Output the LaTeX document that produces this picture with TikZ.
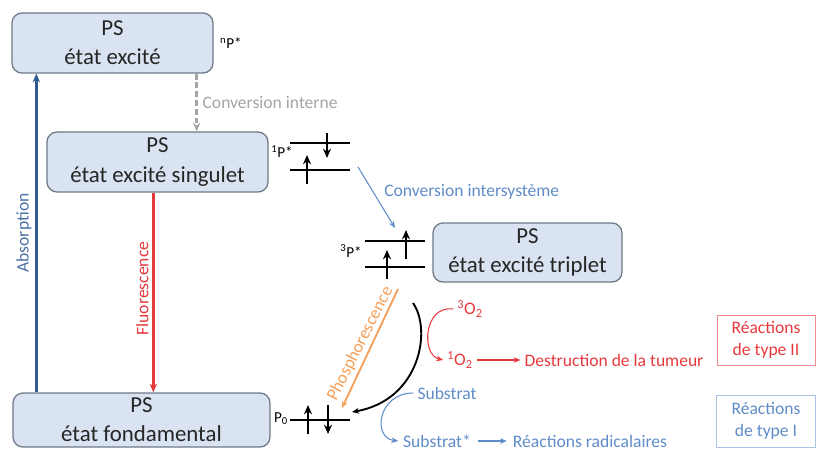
\documentclass[tikz,border=0pt]{standalone}
\usepackage{fontspec}
\setmainfont{Carlito}
\usepackage{tikz}
\usetikzlibrary{arrows.meta, positioning, calc}
\usepackage{xcolor}
\definecolor{fondboite}{HTML}{D9E3F1}
\definecolor{bordboite}{HTML}{6F7A88}
\definecolor{bleufonce}{HTML}{2F5B8F}
\definecolor{bleumoyen}{HTML}{4A70A6}
\definecolor{bleuclair}{HTML}{5F8CC8}
\definecolor{bleupale}{HTML}{A9C3E4}
\definecolor{rouge}{HTML}{E6393E}
\definecolor{rougeclair}{HTML}{F08A8C}
\definecolor{orangephos}{HTML}{F5A05A}
\definecolor{gris}{HTML}{A5A5A5}
\tikzset{
    etat/.style={draw=bordboite, fill=fondboite, line width=1.1pt, rounded corners=3mm, align=center, inner sep=0pt, text=black!85, font=\fontsize{19.5}{25}\selectfont},
    type/.style={draw, thick, align=center, inner sep=0pt, font=\fontsize{15}{19}\selectfont},
    texte/.style={font=\fontsize{15}{18}\selectfont},
    petit/.style={font=\fontsize{13}{15}\selectfont},
    fleche/.style={-{Stealth[length=2.1mm, width=1.7mm]}, line width=0.9pt},
    gros/.style={-{Stealth[length=2.6mm, width=2.2mm]}, line width=2.4pt},
    spin/.style={-{Stealth[length=2.8mm, width=2.4mm]}, line width=2.1pt},
    niveau/.style={line width=1.5pt},
}

\begin{document}
\begin{tikzpicture}[x=0.03cm, y=-0.03cm]
\useasboundingbox (0,0) rectangle (818,450);
% etats du PS
\node[etat, minimum width=6.03cm, minimum height=1.8cm] (excite) at (112.5,43) {PS\\état excité};
\node[etat, minimum width=6.63cm, minimum height=1.8cm] (singulet) at (157.5,162) {PS\\état excité singulet};
\node[etat, minimum width=5.67cm, minimum height=1.77cm] (triplet) at (527.5,252.5) {PS\\état excité triplet};
\node[etat, minimum width=7.71cm, minimum height=1.62cm] (fond) at (141.5,420) {PS\\état fondamental};
\node[type, draw=rougeclair, text=rouge, minimum width=2.94cm, minimum height=1.5cm] (typeII) at (766,340) {Réactions\\de type II};
\node[type, draw=bleupale, text=bleuclair, minimum width=2.97cm, minimum height=1.56cm] (typeI) at (766,421) {Réactions\\de type I};

% niveaux et spins
\foreach \y in {143,170} {\draw[niveau] (290,\y) -- (350,\y);}
\foreach \y in {241,267} {\draw[niveau] (365,\y) -- (425,\y);}
\draw[niveau] (290,420) -- (350,420);
\draw[spin] (327,133) -- (327,158);
\draw[spin] (307,184) -- (307,155);
\foreach \x/\y in {406/259, 387/279} {\draw[spin] (\x,\y) -- (\x,\y-29);}
\draw[spin] (308,434) -- (308,405);
\draw[spin] (328,405) -- (328,434);
\node[petit] (np) at (231,43) {\textsuperscript{n}P*};
\node[petit] (p1) at (282,152) {\textsuperscript{1}P*};
\node[petit] (p3) at (351,251) {\textsuperscript{3}P*};
\node[petit] (p0) at (281,419) {P\textsubscript{0}};
\coordinate (s1) at (358,167);
\coordinate (t1) at (395,228);
\coordinate (t2) at (398,289);
\coordinate (f2) at (342,408);
\coordinate (t3) at (413,303);
\coordinate (f3) at (352,412);

% transitions
\draw[gros, bleufonce] (fond.north west) ++(24,0) coordinate (a1) -- node[midway, rotate=90, anchor=south, texte, text=bleumoyen, inner sep=3pt] {Absorption} (a1 |- excite.south);
\draw[gros, rouge, line width=2.2pt] (singulet.south west) ++(107,0) coordinate (f1) -- node[pos=0.48, rotate=90, anchor=south, texte, inner sep=3pt] {Fluorescence} (f1 |- fond.north);
\draw[gros, gris, line width=2.2pt, dash pattern=on 5pt off 2.5pt] (excite.south east) ++(-17,0) coordinate (c1) -- node[midway, right, texte, inner sep=4pt] {Conversion interne} (c1 |- singulet.north);
\draw[fleche, bleuclair] (s1) -- node[pos=0.4, right, texte, xshift=6pt] {Conversion intersystème} (t1);
\draw[fleche, orangephos, line width=1.6pt] (t2) -- node[midway, rotate=63, anchor=south, texte, inner sep=2pt] {Phosphorescence} (f2);
\draw[fleche, line width=1.6pt] (t3) .. controls (432,330) and (420,400) .. (f3);

% reactions
\node[texte, text=rouge] (o3) at (470,309) {\textsuperscript{3}O\textsubscript{2}};
\node[texte, text=rouge] (o1) at (460,360) {\textsuperscript{1}O\textsubscript{2}};
\node[texte, text=rouge] (destruction) at (614,360) {Destruction de la tumeur};
\node[texte, text=bleuclair] (substrat) at (447,393) {Substrat};
\node[texte, text=bleuclair, inner sep=1pt] (substratx) at (437,441) {Substrat*};
\node[texte, text=bleuclair, inner sep=1pt] (radicalaires) at (590,441) {Réactions radicalaires};
\draw[fleche, rouge] (o3.west) .. controls +(-30,-4) and +(-22,-5) .. (o1.west);
\draw[fleche, rouge] (o1) -- (destruction);
\draw[fleche, bleuclair] (substrat.west) .. controls +(-36,0) and +(-26,-3) .. ([xshift=-3pt]substratx.west);
\draw[fleche, bleuclair, shorten <=5pt, shorten >=4pt] (substratx) -- (radicalaires);
\end{tikzpicture}
\end{document}
